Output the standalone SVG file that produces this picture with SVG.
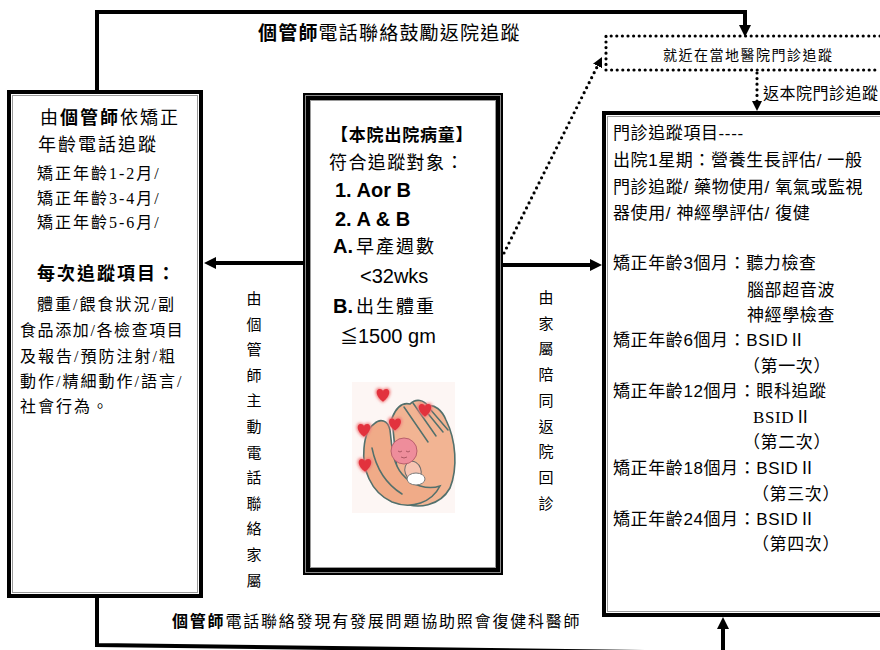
<svg xmlns="http://www.w3.org/2000/svg" width="880" height="650" viewBox="0 0 880 650">
  <defs>
    <style>
      text { fill: #000; }
      .m { font-family: "Liberation Serif", "Noto Sans CJK TC", serif; }
      .s { font-family: "Liberation Sans", "Noto Sans CJK TC", sans-serif; }
      .b { font-weight: 700; }
      .frame { fill: #fff; stroke: #000; stroke-width: 4; }
      .inner { fill: none; stroke: #9a9a9a; stroke-width: 1; }
      .wire { fill: none; stroke: #000; stroke-width: 4; }
      .dots { fill: none; stroke: #000; stroke-width: 3.2; stroke-linecap: round; stroke-dasharray: 0 5.6; }
      .outline { stroke: #52706c; stroke-width: 1.5; stroke-linecap: round; fill: none; }
    </style>
    <marker id="head" markerUnits="userSpaceOnUse" viewBox="0 0 12 12" markerWidth="12" markerHeight="12" refX="2" refY="6" orient="auto">
      <path d="M0,0 L12,6 L0,12 Z" fill="#000"/>
    </marker>
    <marker id="dotHead" markerUnits="userSpaceOnUse" viewBox="0 0 10 10" markerWidth="10" markerHeight="10" refX="2" refY="5" orient="auto">
      <path d="M0,0 L10,5 L0,10 Z" fill="#000"/>
    </marker>
    <path id="heart" d="M0,5 C-7,0 -6.5,-6 -2.8,-6 C-1.2,-6 0,-5 0,-3.8 C0,-5 1.2,-6 2.8,-6 C6.5,-6 7,0 0,5 Z"/>
    <filter id="soft" x="-10%" y="-10%" width="120%" height="120%">
      <feGaussianBlur stdDeviation="0.6"/>
    </filter>
    <filter id="glow" x="-50%" y="-50%" width="200%" height="200%">
      <feGaussianBlur stdDeviation="1.8"/>
    </filter>
  </defs>

  <rect x="0" y="0" width="880" height="650" fill="#fff"/>

  <!-- connectors -->
  <g id="connectors">
    <path class="wire" d="M97,90 V12 H745 V27" marker-end="url(#head)"/>
    <path class="wire" d="M303,263 H214" marker-end="url(#head)"/>
    <path class="wire" d="M503,265 H592" marker-end="url(#head)"/>
    <path class="wire" d="M97,598 V645 L723,653"/>
    <path class="wire" d="M723,662 V627" marker-end="url(#head)"/>
    <path class="dots" d="M504,253 L598.4,64.2" marker-end="url(#dotHead)"/>
    <path class="dots" d="M757,73 V103" marker-end="url(#dotHead)"/>

    <text class="m" x="258" y="40" font-size="19" letter-spacing="1.2"><tspan class="b">個管師</tspan>電話聯絡鼓勵返院追蹤</text>
    <text class="m" x="763" y="99" font-size="16" letter-spacing="0.5">返本院門診追蹤</text>
    <text class="m" x="172" y="627" font-size="16" letter-spacing="1.8"><tspan class="b">個管師</tspan>電話聯絡發現有發展問題協助照會復健科醫師</text>
    <text class="m" font-size="15" text-anchor="middle">
      <tspan x="254" y="304">由</tspan><tspan x="254" dy="25.6">個</tspan><tspan x="254" dy="25.6">管</tspan><tspan x="254" dy="25.6">師</tspan><tspan x="254" dy="25.6">主</tspan><tspan x="254" dy="25.6">動</tspan><tspan x="254" dy="25.6">電</tspan><tspan x="254" dy="25.6">話</tspan><tspan x="254" dy="25.6">聯</tspan><tspan x="254" dy="25.6">絡</tspan><tspan x="254" dy="25.6">家</tspan><tspan x="254" dy="25.6">屬</tspan>
    </text>
    <text class="m" font-size="15" text-anchor="middle">
      <tspan x="546" y="303">由</tspan><tspan x="546" dy="25.7">家</tspan><tspan x="546" dy="25.7">屬</tspan><tspan x="546" dy="25.7">陪</tspan><tspan x="546" dy="25.7">同</tspan><tspan x="546" dy="25.7">返</tspan><tspan x="546" dy="25.7">院</tspan><tspan x="546" dy="25.7">回</tspan><tspan x="546" dy="25.7">診</tspan>
    </text>
  </g>

  <!-- local hospital follow-up (dotted frame running off to the right) -->
  <g id="node-local">
    <path class="dots" d="M880,36 H606 V70 H880"/>
    <text class="m" x="663" y="60" font-size="14" letter-spacing="1.5">就近在當地醫院門診追蹤</text>
  </g>

  <!-- case manager phone follow-up -->
  <g id="node-phone">
    <rect class="frame" x="9" y="92" width="192" height="504"/>
    <rect class="inner" x="12.5" y="95.5" width="185" height="497"/>
    <text class="m" x="40" y="124" font-size="18" letter-spacing="2">由<tspan class="b">個管師</tspan>依矯正</text>
    <text class="m" x="38" y="151" font-size="18" letter-spacing="2">年齡電話追蹤</text>
    <text class="m" x="37" y="179" font-size="16" letter-spacing="2">矯正年齡1-2月/</text>
    <text class="m" x="37" y="204" font-size="16" letter-spacing="2">矯正年齡3-4月/</text>
    <text class="m" x="37" y="228" font-size="16" letter-spacing="2">矯正年齡5-6月/</text>
    <text class="m b" x="37" y="280" font-size="18" letter-spacing="2">每次追蹤項目：</text>
    <text class="m" x="37" y="310" font-size="16" letter-spacing="2">體重/餵食狀況/副</text>
    <text class="m" x="20" y="336" font-size="16" letter-spacing="1.6">食品添加/各檢查項目</text>
    <text class="m" x="20" y="362" font-size="16" letter-spacing="2">及報告/預防注射/粗</text>
    <text class="m" x="20" y="387" font-size="16" letter-spacing="2">動作/精細動作/語言/</text>
    <text class="m" x="20" y="412" font-size="16" letter-spacing="2">社會行為。</text>
  </g>

  <!-- discharged infants eligible for follow-up -->
  <g id="node-infants">
    <rect x="307" y="97" width="192" height="474" fill="#fff" stroke="#000" stroke-width="8"/>
    <rect x="305.5" y="95.5" width="195" height="477" fill="none" stroke="#8a8a8a" stroke-width="1"/>
    <rect x="310.5" y="100.5" width="185" height="467" fill="none" stroke="#9a9a9a" stroke-width="1"/>
    <text class="m b" x="331" y="141" font-size="17" letter-spacing="0.8">【本院出院病童】</text>
    <text class="m" x="329" y="169" font-size="18" letter-spacing="1.4">符合追蹤對象：</text>
    <text class="s b" x="335" y="197" font-size="20">1. Aor B</text>
    <text class="s b" x="335" y="226" font-size="20">2. A &amp; B</text>
    <text x="333" y="253"><tspan class="s b" font-size="20">A.</tspan><tspan class="m" font-size="18" letter-spacing="2" dx="3">早產週數</tspan></text>
    <text class="s" x="360" y="283" font-size="20">&lt;32wks</text>
    <text x="333" y="313"><tspan class="s b" font-size="20">B.</tspan><tspan class="m" font-size="18" letter-spacing="2" dx="3">出生體重</tspan></text>
    <text x="340" y="343"><tspan class="m" font-size="18">≦</tspan><tspan class="s" font-size="20">1500 gm</tspan></text>

    <!-- cupped hands holding a baby, with hearts -->
    <g id="baby-hands" filter="url(#soft)">
      <rect x="352" y="382" width="103" height="131" fill="#fdf6f4"/>
      <!-- back hand: fingers reaching up to the right -->
      <path d="M392,418 C396,408 402,402 410,404 C416,398 424,400 428,406 C434,404 442,410 446,420 C456,440 458,468 450,488 C440,506 418,510 400,502 Z" fill="#f2b493" stroke="#52706c" stroke-width="1.6"/>
      <path class="outline" d="M404,407 L428,442 M413,403 L436,436 M421,405 L443,432 M430,409 L448,430"/>
      <!-- front hand: thumb and palm curling from the left -->
      <path d="M374,424 C380,418 388,420 390,430 C392,446 392,462 402,474 C412,486 428,490 440,486 C432,502 412,510 392,502 C370,492 362,468 364,448 C365,436 368,428 374,424 Z" fill="#f0ab88" stroke="#52706c" stroke-width="1.6"/>
      <path class="outline" d="M372,448 C376,468 386,484 402,494"/>
      <ellipse cx="413" cy="471" rx="8" ry="10" fill="#f6c4b2" stroke="#6c6c6c" stroke-width="1" transform="rotate(-20 413 471)"/>
      <ellipse cx="416" cy="479" rx="9" ry="6" fill="#fff" stroke="#7a7a7a" stroke-width="1"/>
      <circle cx="404" cy="451" r="13" fill="#ee8d9b" stroke="#b9606c" stroke-width="1"/>
      <path d="M398,451 q2,2 4,0 M406,451 q2,2 4,0 M401,457 q3,2 6,0" stroke="#9b4a55" stroke-width="0.8" fill="none"/>
      <g fill="#f07a7a" filter="url(#glow)">
        <use href="#heart" transform="translate(383,396) scale(1.35)"/>
        <use href="#heart" transform="translate(425,411) scale(1.35)"/>
        <use href="#heart" transform="translate(395,425) scale(1.3)"/>
        <use href="#heart" transform="translate(364,431) scale(1.35)"/>
        <use href="#heart" transform="translate(365,466) scale(1.35)"/>
      </g>
      <g fill="#e2313c">
        <use href="#heart" transform="translate(383,396) scale(1.15)"/>
        <use href="#heart" transform="translate(425,411) scale(1.15)"/>
        <use href="#heart" transform="translate(395,425) scale(1.1)"/>
        <use href="#heart" transform="translate(364,431) scale(1.15)"/>
        <use href="#heart" transform="translate(365,466) scale(1.15)"/>
      </g>
    </g>
  </g>

  <!-- outpatient follow-up items at this hospital -->
  <g id="node-clinic">
    <rect class="frame" x="604" y="113" width="290" height="502"/>
    <rect class="inner" x="607.5" y="116.5" width="290" height="495"/>
    <g class="m" font-size="17" letter-spacing="0.6">
      <text x="613" y="139">門診追蹤項目<tspan class="s">----</tspan></text>
      <text x="613" y="166">出院<tspan class="s">1</tspan>星期：營養生長評估<tspan class="s">/ </tspan>一般</text>
      <text x="613" y="193">門診追蹤<tspan class="s">/ </tspan>藥物使用<tspan class="s">/ </tspan>氧氣或監視</text>
      <text x="613" y="219">器使用<tspan class="s">/ </tspan>神經學評估<tspan class="s">/ </tspan>復健</text>
      <text x="613" y="269">矯正年齡<tspan class="s">3</tspan>個月：聽力檢查</text>
      <text x="747" y="296">腦部超音波</text>
      <text x="747" y="321">神經學檢查</text>
      <text x="613" y="346">矯正年齡<tspan class="s">6</tspan>個月：<tspan class="s">BSID</tspan>Ⅱ</text>
      <text x="743" y="372">（第一次）</text>
      <text x="613" y="397">矯正年齡<tspan class="s">12</tspan>個月：眼科追蹤</text>
      <text x="753" y="423">BSIDⅡ</text>
      <text x="743" y="448">（第二次）</text>
      <text x="613" y="474">矯正年齡<tspan class="s">18</tspan>個月：<tspan class="s">BSID</tspan>Ⅱ</text>
      <text x="752" y="500">（第三次）</text>
      <text x="613" y="525">矯正年齡<tspan class="s">24</tspan>個月：<tspan class="s">BSID</tspan>Ⅱ</text>
      <text x="752" y="550">（第四次）</text>
    </g>
  </g>
</svg>
